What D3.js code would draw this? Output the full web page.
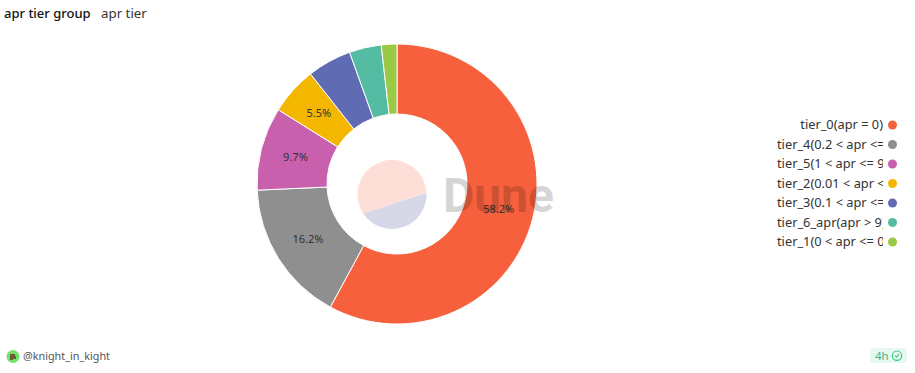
<!DOCTYPE html>
<html>
<head>
<meta charset="utf-8">
<script src="https://cdnjs.cloudflare.com/ajax/libs/d3/7.8.5/d3.min.js"></script>
<style>
  html, body { margin: 0; padding: 0; background: #fff; }
  text { font-family: "Noto Sans", "Open Sans", sans-serif; }
</style>
</head>
<body>
<div class="canva"></div>
<script>
const tierNames = ['tier_0(apr = 0)', 'tier_4(0.2 < apr <= 1)', 'tier_5(1 < apr <= 9)', 'tier_2(0.01 < apr <= 0.1)',
                   'tier_3(0.1 < apr <= 0.2)', 'tier_6_apr(apr > 9)', 'tier_1(0 < apr <= 0.01)'];
// slice sizes as measured off the ring, the printed labels differ slightly
const tierValues = [57.9, 16.4, 9.6, 5.5, 5.1, 3.7, 1.8];
const tierLabels = ['58.2%', '16.2%', '9.7%', '5.5%', '', '', ''];
const tierColors = ['#f6603c', '#8f8f8f', '#c960ae', '#f4b700', '#5f6bb2', '#54bca2', '#9aca45'];
// share of the inner circle's rim for each apr tier group
const groupValues = [58.6, 41.4];
const groupColors = ['#fddfd8', '#d6d8e8'];

const width = 915, height = 373;
const cx = 397, cy = 184;

const svg = d3.select('.canva').append('svg')
              .attr('width', width)
              .attr('height', height)
              .style('display', 'block');

svg.append('text').attr('x', 4).attr('y', 18)
   .attr('font-size', 13).attr('font-weight', 500).attr('fill', '#111')
   .text('apr tier group');
svg.append('text').attr('x', 101).attr('y', 18)
   .attr('font-size', 13.3).attr('fill', '#333')
   .text('apr tier');

const pie = d3.pie().value(d => d).sort(null);
const arc = d3.arc().innerRadius(70).outerRadius(140);

const graph = svg.append('g').attr('transform', `translate(${cx},${cy})`);

graph.selectAll('path')
     .data(pie(tierValues))
     .enter().append('path')
     .attr('d', arc)
     .attr('fill', (d, i) => tierColors[i])
     .attr('stroke', '#fff')
     .attr('stroke-width', 1);

// small inner circle, the two groups split by a straight chord
const innerR = 34.5;
const innerPie = d3.pie().value(d => d).sort(null)
                   .startAngle(4.128).endAngle(4.128 + Math.PI * 2);
const inner = svg.append('g').attr('transform', 'translate(392,194.5)');
inner.selectAll('path')
     .data(innerPie(groupValues))
     .enter().append('path')
     .attr('d', d => {
       const p = d3.path();
       p.arc(0, 0, innerR, d.startAngle - Math.PI / 2, d.endAngle - Math.PI / 2);
       p.closePath();
       return p.toString();
     })
     .attr('fill', (d, i) => groupColors[i]);

// watermark
svg.append('text').attr('x', 443).attr('y', 212)
   .style('font-family', 'Roboto')
   .attr('font-size', 48).attr('font-weight', 700)
   .attr('fill', '#000').attr('opacity', 0.16)
   .text('Dune');

const labelArc = d3.arc().innerRadius(105).outerRadius(105);
graph.selectAll('text')
     .data(pie(tierValues).filter(d => tierLabels[d.index]))
     .enter().append('text')
     .attr('transform', d => `translate(${labelArc.centroid(d)})`)
     .attr('text-anchor', 'middle')
     .attr('dy', '0.3em')
     .attr('font-size', 11)
     .attr('fill', '#333')
     .text(d => tierLabels[d.index]);

// legend, long names get cut off at the right
svg.append('clipPath').attr('id', 'legendClip')
   .append('rect').attr('x', 770).attr('y', 110).attr('width', 113).attr('height', 150);

const legendY = d3.scalePoint().domain(tierNames).range([125, 242]);

const legend = svg.append('g');
legend.selectAll('text')
      .data(tierNames)
      .enter().append('text')
      .attr('clip-path', 'url(#legendClip)')
      .attr('x', (d, i) => i === 0 ? 883 : 777)
      .attr('y', d => legendY(d))
      .attr('dy', '0.35em')
      .attr('text-anchor', (d, i) => i === 0 ? 'end' : 'start')
      .attr('font-size', 12.8)
      .attr('fill', '#333')
      .text(d => d);
legend.selectAll('circle')
      .data(tierNames)
      .enter().append('circle')
      .attr('cx', 892.5)
      .attr('cy', d => legendY(d))
      .attr('r', 4.5)
      .attr('fill', (d, i) => tierColors[i]);

// footer
svg.append('circle').attr('cx', 13).attr('cy', 356.5).attr('r', 6.5).attr('fill', '#74e264');
svg.append('path').attr('d', 'M10 354h5v2h1v3h-3v1h-3z').attr('fill', '#6b5a3a');
svg.append('text').attr('x', 23).attr('y', 360)
   .attr('font-size', 10.8).attr('fill', '#555')
   .text('@knight_in_kight');

svg.append('rect').attr('x', 870).attr('y', 348).attr('width', 37).attr('height', 15).attr('rx', 4).attr('fill', '#e6f8ef');
svg.append('text').attr('x', 875).attr('y', 360)
   .attr('font-size', 11.5).attr('fill', '#4ab58a')
   .text('4h');
svg.append('circle').attr('cx', 897).attr('cy', 355.7).attr('r', 4.7)
   .attr('fill', 'none').attr('stroke', '#3cc98a').attr('stroke-width', 1.2);
svg.append('path').attr('d', 'M895 355.7l1.5 1.5l2.5-3')
   .attr('fill', 'none').attr('stroke', '#3cc98a').attr('stroke-width', 1.1);
</script>
</body>
</html>
